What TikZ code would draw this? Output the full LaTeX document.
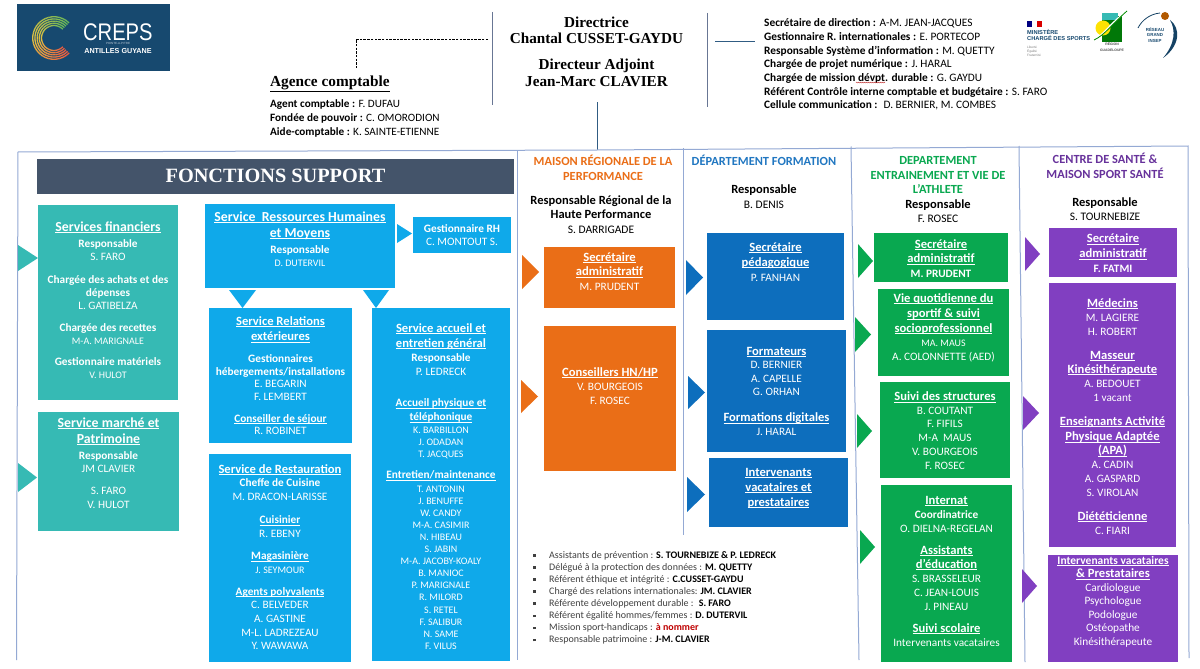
\documentclass[tikz,border=0pt]{standalone}
\usepackage{fontspec}
\usetikzlibrary{decorations.pathmorphing}
\setmainfont{Carlito}
\newfontfamily\serifx{Liberation Serif}
\newfontfamily\sansx{Liberation Sans}
\definecolor{cteal}{HTML}{36BAB4}
\definecolor{clight}{HTML}{0FA9EA}
\definecolor{corange}{HTML}{EA6E17}
\definecolor{cdark}{HTML}{0D6EBD}
\definecolor{cgreen}{HTML}{09A850}
\definecolor{cpurple}{HTML}{813FC1}
\definecolor{cframe}{HTML}{94A9D4}
\definecolor{cnavy}{HTML}{17496F}
\definecolor{cbar}{HTML}{44546A}
\tikzset{
  orgbox/.style={anchor=north west,inner sep=0pt,outer sep=0pt,text=white},
  frameline/.style={draw=cframe,line width=1pt},
  head/.style={align=center,inner sep=0pt,font=\fontsize{12.4}{14.9}\selectfont\bfseries},
  resp/.style={align=center,inner sep=0pt,font=\fontsize{11.5}{14.4}\selectfont},
  plain/.style={align=left,anchor=west,inner sep=0pt}
}
\newcommand{\ulb}[1]{\underline{\smash{#1}}}
\newcommand{\Tl}[1]{{\fontsize{13.8}{12}\selectfont\bfseries\ulb{#1}}}
\newcommand{\Ti}[1]{{\fontsize{12.6}{12}\selectfont\bfseries\ulb{#1}}}
\newcommand{\Tb}[1]{{\fontsize{11.3}{12}\selectfont\bfseries\ulb{#1}}}
\newcommand{\Bo}[1]{{\fontsize{11.3}{12}\selectfont\bfseries #1}}
\newcommand{\Bh}[1]{{\fontsize{12.5}{12}\selectfont\bfseries #1}}
\newcommand{\Nm}[1]{{\fontsize{11.3}{12}\selectfont #1}}
\newcommand{\Sm}[1]{{\fontsize{10}{12}\selectfont #1}}
% name x1 y1 x2 y2 colour firstbaseline leading text
\newcommand{\orgbox}[9]{%
  \pgfmathsetmacro\bw{#4-#2}\pgfmathsetmacro\bh{#5-#3}\pgfmathsetmacro\offs{#7-#3-20}%
  \node[orgbox,fill=#6] (#1) at (#2,#3) {\parbox[c][\bh pt][t]{\bw pt}{%
    \lineskiplimit=-1000pt\fontsize{11.3}{#8}\selectfont\centering\vspace*{\offs pt}\rule{0pt}{20pt}#9\par}};}
\newcommand{\rtri}[5]{\fill[#1] (#2,#4) -- (#3,{(#4+#5)/2}) -- (#2,#5) -- cycle;}
\newcommand{\dtri}[5]{\fill[#1] (#2,#4) -- ({(#2+#3)/2},#5) -- (#3,#4) -- cycle;}
\newcommand{\bul}{\rule[1.5pt]{2.6pt}{2.6pt}\hspace{13.4pt}}
\begin{document}
\begin{tikzpicture}[x=1pt,y=-1pt]
\useasboundingbox (0,0) rectangle (1200,669);
\fill[white] (0,0) rectangle (1200,669);

% logo CREPS
\fill[cnavy] (16.5,4) rectangle (170,71);
\foreach \rr in {12.5,14.7,16.9,19.1,21.3}{
 \foreach \aa in {45,55,...,305}{
  \pgfmathsetmacro\tb{min(1,2*(\aa-45)/270)}
  \pgfmathsetmacro\tc{max(0,2*(\aa-45)/270-1)}
  \pgfmathsetmacro\cR{0.40+0.5*\tb+0.02*\tc}
  \pgfmathsetmacro\cG{0.72+0.03*\tb-0.42*\tc}
  \pgfmathsetmacro\cB{0.35-0.1*\tb}
  \definecolor{arcc}{rgb}{\cR,\cG,\cB}
  \draw[line width=1.3pt,arcc]
   ({54+\rr*cos(\aa)},{38-\rr*sin(\aa)}) -- ({54+\rr*cos(\aa+10.5)},{38-\rr*sin(\aa+10.5)});
 }}
\node[anchor=west,inner sep=0pt,text=white,xscale=.84,text depth=0pt,font=\sansx\fontsize{24}{24}\selectfont] (crepsname) at (83,32) {CREPS};
\node[anchor=center,inner sep=0pt,text=white!70!cnavy,font=\sansx\fontsize{3}{3}\selectfont] (crepscity) at (118,43.2) {POINTE-A-PITRE};
\node[anchor=center,inner sep=0pt,text=white,font=\sansx\bfseries\fontsize{7.2}{8}\selectfont] (crepsag) at (118,50.8) {ANTILLES GUYANE};

% top connectors
\coordinate (dashend) at (488,39); \coordinate (dashdown) at (356,68);
\draw[black,line width=.7pt,dash pattern=on 2.5pt off 1.2pt] (dashend) -- (356,39) -- (dashdown);
\coordinate (ltop) at (492,12); \coordinate (lbot) at (492,105);
\draw[cframe!70!black,line width=.7pt] (ltop) -- (lbot);
\coordinate (rtop) at (707.5,13); \coordinate (rbot) at (707.5,107);
\draw[cframe!70!black,line width=.7pt] (rtop) -- (rbot);
\coordinate (hla) at (715,41); \coordinate (hlb) at (755,41);
\draw[cnavy!80!cframe,line width=.7pt] (hla) -- (hlb);
\coordinate (dira) at (597,102); \coordinate (dirb) at (597,150);
\draw[cnavy!80!cframe,line width=.7pt] (dira) -- (dirb);

% titles
\node[align=center,inner sep=0pt,font=\serifx\bfseries\fontsize{15.2}{16.4}\selectfont] (dir) at (596.5,30.5) {Directrice\\Chantal CUSSET-GAYDU};
\node[align=center,inner sep=0pt,font=\serifx\bfseries\fontsize{15.2}{16.4}\selectfont] (adj) at (596.5,73) {Directeur Adjoint\\Jean-Marc CLAVIER};
\node[plain,font=\serifx\bfseries\fontsize{15.3}{16}\selectfont] (agence) at (270,83.5) {\underline{Agence comptable}};
\node[plain,anchor=north west,font=\fontsize{11.2}{14}\selectfont] (agtxt) at (270,99) {\textbf{Agent comptable :} F. DUFAU\\\textbf{Fondée de pouvoir :} C. OMORODION\\\textbf{Aide-comptable :} K. SAINTE-ETIENNE};
\node[plain,anchor=north west,font=\fontsize{11.35}{13.7}\selectfont] (rsec) at (764,18.5) {\textbf{Secrétaire de direction :} A-M. JEAN-JACQUES\\
\textbf{Gestionnaire R. internationales :} E. PORTECOP\\
\textbf{Responsable Système d’information :} M. QUETTY\\
\textbf{Chargée de projet numérique :} J. HARAL\\
\textbf{Chargée de mission dévpt. durable :} G. GAYDU\\
\textbf{Référent Contrôle interne comptable et budgétaire :} S. FARO\\
\textbf{Cellule communication :}~ D. BERNIER, M. COMBES};
\draw[red!70!black,line width=.3pt,decorate,decoration={zigzag,amplitude=.5pt,segment length=2pt}] ([xshift=92pt,yshift=28pt]rsec.south west) -- ++(29,0);

% right logos
\fill[blue!50!black] (1027,21) rectangle (1032,27);
\fill[red!85!black] (1037,21) rectangle (1042,27);
\node[plain,anchor=north west,text=cnavy,font=\sansx\bfseries\fontsize{5.7}{6.2}\selectfont] (minist) at (1027,29.5) {MINISTÈRE\\CHARGÉ DES SPORTS};
\node[plain,anchor=north west,text=black!50,font=\sansx\fontsize{3.2}{3.8}\selectfont] (devise) at (1027,46) {Liberté\\Égalité\\Fraternité};
\fill[green!45!black!90!cgreen] (1102,16) rectangle (1122,42);
\fill[cteal] (1102,13) rectangle (1118,20);
\fill[yellow!85!orange] (1103,28) circle (7.5);
\draw[white,line width=1.6pt] (1096,39) .. controls (1105,33) and (1112,22) .. (1127,11);
\draw[green!55!black,line width=.8pt] (1094,40) .. controls (1105,35) and (1113,23) .. (1127,11);
\node[align=center,inner sep=0pt,text=black!70,font=\sansx\bfseries\fontsize{3.4}{6}\selectfont] (region) at (1112,47.5) {RÉGION\\GUADELOUPE};
\draw[cnavy!90!black,line width=.8pt] (1138,28) .. controls (1142,20) and (1150,14) .. (1160,13);
\fill[cnavy!90!black] (1170,20) .. controls (1181,28) and (1180,46) .. (1163,58) .. controls (1175,44) and (1176,30) .. (1170,20) -- cycle;
\fill[orange!70!black] (1165,16) circle (4);
\node[align=center,inner sep=0pt,text=cnavy,font=\sansx\bfseries\fontsize{4.4}{5.8}\selectfont] (reseau) at (1155,35) {RÉSEAU\\GRAND\\INSEP};

% frame
\coordinate (fa) at (18,152); \coordinate (fb) at (16.5,660); \coordinate (fc) at (1188,146); \coordinate (fd) at (1189,658);
\draw[frameline] (fb) -- (fa) -- (597,150) -- (fc) -- (fd);
\coordinate (d1a) at (517.5,151); \coordinate (d1b) at (517.5,660);
\draw[frameline] (d1a) -- (d1b);
\coordinate (d2a) at (683,148); \coordinate (d2b) at (683,535);
\draw[frameline] (d2a) -- (d2b);
\coordinate (d3a) at (851,146.5); \coordinate (d3b) at (859,660);
\draw[frameline] (d3a) -- (d3b);
\coordinate (d4a) at (1019,146); \coordinate (d4b) at (1025,662);
\draw[frameline] (d4a) -- (d4b);

% bar
\node[orgbox,fill=cbar,minimum width=477pt,minimum height=35pt,font=\serifx\bfseries\fontsize{20.3}{21}\selectfont] (fonctions) at (37,158.5) {FONCTIONS SUPPORT};

% column heads
\node[head,text=corange] (h1) at (603,168) {MAISON RÉGIONALE DE LA\\PERFORMANCE};
\node[head,text=cdark!85!cframe] (h2) at (764,160) {DÉPARTEMENT FORMATION};
\node[head,text=cgreen] (h3) at (938,175) {DEPARTEMENT\\ENTRAINEMENT ET VIE DE\\L’ATHLETE};
\node[head,text=cpurple!80!black] (h4) at (1105,166) {CENTRE DE SANTÉ \&\\MAISON SPORT SANTÉ};
\node[resp] (r1) at (601,214.5) {\Bh{Responsable Régional de la}\\\Bh{Haute Performance}\\S. DARRIGADE};
\node[resp] (r2) at (764,196.5) {\Bh{Responsable}\\B. DENIS};
\node[resp] (r3) at (938,211) {\Bh{Responsable}\\F. ROSEC};
\node[resp] (r4) at (1105,209) {\Bh{Responsable}\\S. TOURNEBIZE};

% teal
\orgbox{fin}{38}{205}{178}{400}{cteal}{231}{13}{\Tl{Services financiers}\\[3pt]\Bo{Responsable}\\\Nm{S. FARO}\\[10pt]\Bo{Chargée des achats et des}\\\Bo{dépenses}\\\Nm{L. GATIBELZA}\\[9pt]\Bo{Chargée des recettes}\\\Sm{M-A. MARIGNALE}\\[8pt]\Bo{Gestionnaire matériels}\\\Sm{V. HULOT}}
\orgbox{march}{38}{412}{179}{531}{cteal}{427}{13.5}{\Tl{Service marché et}\\[2.5pt]\Tl{Patrimoine}\\[2.5pt]\Bo{Responsable}\\\Nm{JM CLAVIER}\\[8.5pt]\Nm{S. FARO}\\\Nm{V. HULOT}}
\rtri{cteal}{18}{38}{245}{271}
\rtri{cteal}{18}{37}{463}{492}

% light blue
\orgbox{rh}{205}{204}{395}{288}{clight}{221}{13}{\Tl{Service~ Ressources Humaines}\\[3pt]\Tl{et Moyens}\\[3.5pt]\Bo{Responsable}\\\Sm{D. DUTERVIL}}
\orgbox{grh}{413}{217}{511}{253}{clight}{232}{13}{\Bo{Gestionnaire RH}\\\Nm{C. MONTOUT S.}}
\rtri{clight}{397}{412}{224}{243}
\dtri{clight}{229}{256}{290}{308}
\dtri{clight}{363}{389}{290}{308}
\orgbox{rel}{209}{308}{352}{443}{clight}{325}{12.7}{\Ti{Service Relations}\\[3pt]\Ti{extérieures}\\[9pt]\Bo{Gestionnaires}\\\Bo{hébergements/installations}\\\Nm{E. BEGARIN}\\\Nm{F. LEMBERT}\\[9pt]\Tb{Conseiller de séjour}\\\Nm{R. ROBINET}}
\orgbox{acc}{372}{308}{510}{661}{clight}{332}{12.1}{\Ti{Service accueil et}\\[3pt]\Ti{entretien général}\\[2pt]\Bo{Responsable}\\[2pt]\Nm{P. LEDRECK}\\[19pt]\Tb{Accueil physique et}\\[2pt]\Tb{téléphonique}\\[1pt]\Sm{K. BARBILLON}\\\Sm{J. ODADAN}\\\Sm{T. JACQUES}\\[9pt]\Tb{Entretien/maintenance}\\[1pt]\Sm{T. ANTONIN}\\\Sm{J. BENUFFE}\\\Sm{W. CANDY}\\\Sm{M-A. CASIMIR}\\\Sm{N. HIBEAU}\\\Sm{S. JABIN}\\\Sm{M-A. JACOBY-KOALY}\\\Sm{B. MANIOC}\\\Sm{P. MARIGNALE}\\\Sm{R. MILORD}\\\Sm{S. RETEL}\\\Sm{F. SALIBUR}\\\Sm{N. SAME}\\\Sm{F. VILUS}}
\orgbox{rest}{209}{454}{351}{662}{clight}{473}{13.6}{\Ti{Service de Restauration}\\\Bo{Cheffe de Cuisine}\\\Nm{M. DRACON-LARISSE}\\[10pt]\Tb{Cuisinier}\\\Nm{R. EBENY}\\[8.5pt]\Tb{Magasinière}\\\Sm{J. SEYMOUR}\\[8.5pt]\Tb{Agents polyvalents}\\\Nm{C. BELVEDER}\\\Nm{A. GASTINE}\\\Nm{M-L. LADREZEAU}\\\Nm{Y. WAWAWA}}

% orange
\rtri{corange}{522}{539}{255}{289}
\rtri{corange}{521}{538}{380}{413}
\orgbox{osec}{544}{247}{675}{308}{corange}{261}{14.8}{\Ti{Secrétaire}\\\Ti{administratif}\\\Nm{M. PRUDENT}}
\orgbox{ocon}{544}{326}{676}{471}{corange}{376}{14}{\Ti{Conseillers HN/HP}\\\Nm{V. BOURGEOIS}\\\Nm{F. ROSEC}}

% dark blue
\rtri{cdark}{686}{703}{260}{295}
\rtri{cdark}{688}{705}{376}{409}
\rtri{cdark}{687}{705}{477}{512}
\orgbox{bsec}{707}{233}{844}{320}{cdark}{251}{15}{\Ti{Secrétaire}\\\Ti{pédagogique}\\\Nm{P. FANHAN}}
\orgbox{bfor}{707}{330}{846}{452}{cdark}{355}{13.6}{\Ti{Formateurs}\\\Nm{D. BERNIER}\\\Nm{A. CAPELLE}\\\Nm{G. ORHAN}\\[12.5pt]\Ti{Formations digitales}\\\Nm{J. HARAL}}
\orgbox{bint}{709}{458}{848}{527}{cdark}{476}{15}{\Ti{Intervenants}\\\Ti{vacataires et}\\\Ti{prestataires}}

% green
\rtri{cgreen}{858}{873}{244}{278}
\rtri{cgreen}{855}{871}{317}{352}
\rtri{cgreen}{857}{872}{414}{448}
\rtri{cgreen}{860}{875}{530}{564}
\orgbox{gsec}{874}{233}{1008}{282}{cgreen}{248}{14.7}{\Ti{Secrétaire}\\\Ti{administratif}\\\Bo{M. PRUDENT}}
\orgbox{gvie}{878}{289}{1009}{376}{cgreen}{302}{14.3}{\Ti{Vie quotidienne du}\\[1.5pt]\Ti{sportif \& suivi}\\\Ti{socioprofessionnel}\\\Sm{MA. MAUS}\\\Nm{A. COLONNETTE (AED)}}
\orgbox{gsui}{880}{382}{1010}{478}{cgreen}{400.5}{13.7}{\Ti{Suivi des structures}\\\Nm{B. COUTANT}\\\Nm{F. FIFILS}\\\Nm{M-A~ MAUS}\\\Nm{V. BOURGEOIS}\\\Nm{F. ROSEC}}
\orgbox{gint}{881}{485}{1012}{662}{cgreen}{504}{14}{\Ti{Internat}\\\Bo{Coordinatrice}\\\Nm{O. DIELNA-REGELAN}\\[8pt]\Ti{Assistants}\\\Ti{d’éducation}\\\Nm{S. BRASSELEUR}\\\Nm{C. JEAN-LOUIS}\\\Nm{J. PINEAU}\\[8pt]\Ti{Suivi scolaire}\\\Nm{Intervenants vacataires}}

% purple
\rtri{cpurple}{1025}{1040}{237}{271}
\rtri{cpurple}{1023}{1039}{396}{430}
\rtri{cpurple}{1022}{1037}{569}{603}
\orgbox{psec}{1049}{228}{1177}{277}{cpurple}{242.5}{15.2}{\Ti{Secrétaire}\\\Ti{administratif}\\\Bo{F. FATMI}}
\orgbox{pmed}{1049}{283}{1176}{547}{cpurple}{307}{14}{\Ti{Médecins}\\\Nm{M. LAGIERE}\\\Nm{H. ROBERT}\\[10pt]\Ti{Masseur}\\\Ti{Kinésithérapeute}\\\Nm{A. BEDOUET}\\\Nm{1 vacant}\\[10pt]\Ti{Enseignants Activité}\\[1.5pt]\Ti{Physique Adaptée}\\\Ti{(APA)}\\\Nm{A. CADIN}\\\Nm{A. GASPARD}\\\Nm{S. VIROLAN}\\[9.5pt]\Ti{Diététicienne}\\\Nm{C. FIARI}}
\orgbox{pint}{1048}{555}{1178}{662}{cpurple}{564}{13.5}{{\fontsize{11.5}{12}\selectfont\bfseries\ulb{Intervenants vacataires}}\\\Ti{\& Prestataires}\\\Nm{Cardiologue}\\\Nm{Psychologue}\\\Nm{Podologue}\\\Nm{Ostéopathe}\\\Nm{Kinésithérapeute}}

% list
\node[plain,anchor=north west,text=black!75,font=\fontsize{10}{12.1}\selectfont] (liste) at (533,551) {%
\bul Assistants de prévention : \textcolor{black}{\textbf{S. TOURNEBIZE \& P. LEDRECK}}\\
\bul Délégué à la protection des données : \textcolor{black}{\textbf{M. QUETTY}}\\
\bul Référent éthique et intégrité : \textcolor{black}{\textbf{C.CUSSET-GAYDU}}\\
\bul Chargé des relations internationales: \textcolor{black}{\textbf{JM. CLAVIER}}\\
\bul Référente développement durable :~ \textcolor{black}{\textbf{S. FARO}}\\
\bul Référent égalité hommes/femmes : \textcolor{black}{\textbf{D. DUTERVIL}}\\
\bul Mission sport-handicaps : \textcolor{red!75!black}{\textbf{à nommer}}\\
\bul Responsable patrimoine : \textcolor{black}{\textbf{J-M. CLAVIER}}};
\end{tikzpicture}
\end{document}
